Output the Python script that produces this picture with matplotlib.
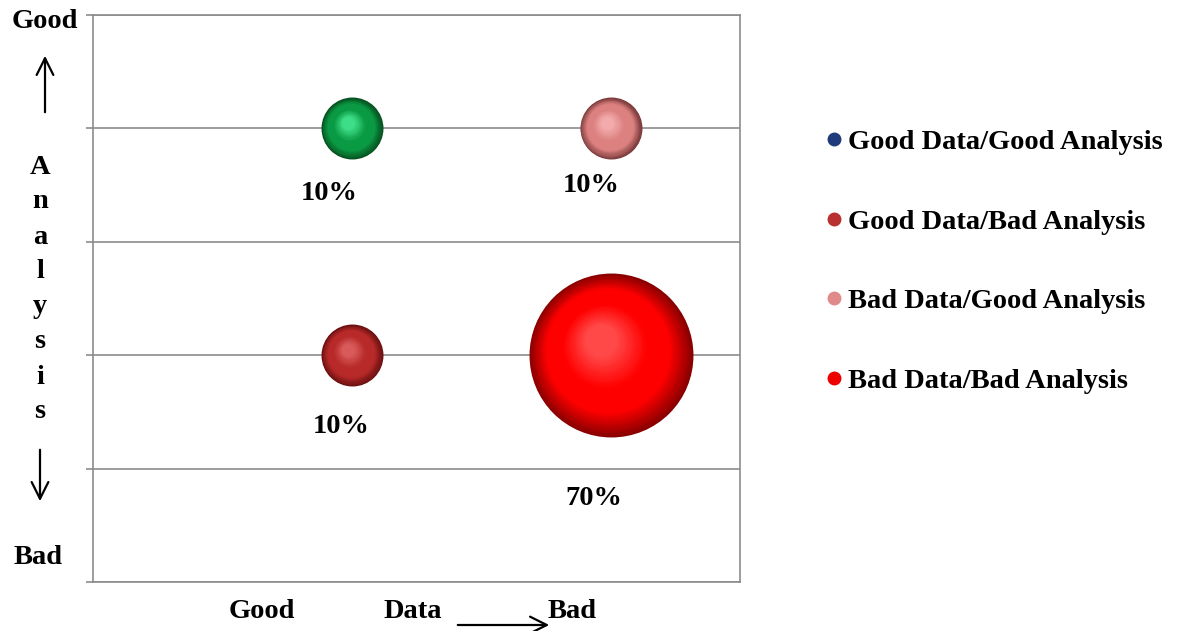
import matplotlib
matplotlib.use("Agg")
import matplotlib.pyplot as plt
import matplotlib.transforms as mtransforms
from matplotlib.lines import Line2D
import numpy as np

plt.rcParams['font.family'] = ['Liberation Serif', 'DejaVu Serif']
plt.rcParams['font.weight'] = 'bold'

# data quality (x) vs analysis quality (y), bubble = share of cases
names = ['Good Data/Good Analysis', 'Good Data/Bad Analysis',
         'Bad Data/Good Analysis', 'Bad Data/Bad Analysis']
data_x = [1, 1, 2, 2]
analysis_y = [4, 2, 4, 2]
share = [10, 10, 10, 70]

# (dark rim, body, highlight) per bubble; legend colours follow the series palette
bubble_cols = [('#06501f', '#0b9a44', '#3ede88'),
               ('#6a1010', '#b82a2a', '#d85a5a'),
               ('#7a3a3a', '#dc8080', '#f2aaaa'),
               ('#8a0000', '#ff0000', '#ff4848')]
legend_cols = ['#1f3a7a', '#b83030', '#e08a8a', '#ee0000']
label_offsets = [(-16, -47), (-8, -51), (-14, -41), (-12, -103)]

SCALE = 199.0  # points^2 per percent
FS = 20.5

def blend(c1, c2, t):
    a = np.array(matplotlib.colors.to_rgb(c1))
    b = np.array(matplotlib.colors.to_rgb(c2))
    return tuple(a + (b - a) * t)

fig = plt.figure(figsize=(11.79, 6.31), dpi=100)
ax = fig.add_axes([0.0789, 0.0777, 0.5488, 0.8985])
ax.set_xlim(0, 2.5)
ax.set_ylim(0, 5)

ax.set_yticks(np.arange(0, 6, 1))
ax.set_xticks([])
ax.set_yticklabels([])
ax.yaxis.grid(True, color='#8c8c8c', linewidth=1.2)
ax.set_axisbelow(True)
ax.tick_params(axis='y', length=5, width=1.2, color='#8c8c8c', direction='out')
for sp in ax.spines.values():
    sp.set_color('#8c8c8c')
    sp.set_linewidth(1.2)

# shaded spheres: stack shrinking discs drifting toward the upper-left highlight
n_layers = 40
for i in range(len(share)):
    rim, body, hi = bubble_cols[i]
    s = share[i] * SCALE
    r = np.sqrt(s) / 2.0
    for k in range(n_layers):
        t = k / (n_layers - 1)
        frac = 1.0 - 0.8 * t
        if t < 0.3:
            col = blend(rim, body, t / 0.3)
        elif t < 0.6:
            col = body
        else:
            col = blend(body, hi, (t - 0.6) / 0.4)
        off = mtransforms.offset_copy(ax.transData, fig=fig,
                                      x=-0.12 * r * t, y=0.18 * r * t, units='points')
        ax.scatter([data_x[i]], [analysis_y[i]], s=s * frac ** 2, color=col,
                   linewidths=0, transform=off, zorder=3 + k * 0.01)
    ax.annotate(f'{share[i]}%', (data_x[i], analysis_y[i]),
                xytext=label_offsets[i], textcoords='offset points',
                ha='center', va='center', fontsize=FS, fontweight='bold')

handles = [Line2D([], [], linestyle='none', marker='o', markersize=9,
                  markerfacecolor=c, markeredgecolor=c) for c in legend_cols]
fig.legend(handles, names, loc='upper left', bbox_to_anchor=(0.6858, 0.813),
           frameon=False, fontsize=FS, handletextpad=0.0, handlelength=1.0,
           labelspacing=1.88, borderaxespad=0)

# axis captions with arrows
fig.text(45 / 1179, 1 - 22 / 631, 'Good', ha='center', va='center', fontsize=FS)
fig.text(38 / 1179, 1 - 557 / 631, 'Bad', ha='center', va='center', fontsize=FS)
for j, ch in enumerate('Analysis'):
    fig.text(40 / 1179, 1 - (167 + j * 35) / 631, ch, ha='center', va='center', fontsize=FS)
fig.add_artist(matplotlib.patches.FancyArrowPatch(
    (45 / 1179, 1 - 115 / 631), (45 / 1179, 1 - 53 / 631), transform=fig.transFigure,
    arrowstyle='->', mutation_scale=30, linewidth=1.6, color='black'))
fig.add_artist(matplotlib.patches.FancyArrowPatch(
    (40 / 1179, 1 - 447 / 631), (40 / 1179, 1 - 504 / 631), transform=fig.transFigure,
    arrowstyle='->', mutation_scale=30, linewidth=1.6, color='black'))

fig.text(262 / 1179, 1 - 612 / 631, 'Good', ha='center', va='center', fontsize=FS)
fig.text(413 / 1179, 1 - 612 / 631, 'Data', ha='center', va='center', fontsize=FS)
fig.text(572 / 1179, 1 - 612 / 631, 'Bad', ha='center', va='center', fontsize=FS)
fig.add_artist(matplotlib.patches.FancyArrowPatch(
    (455 / 1179, 1 - 625 / 631), (552 / 1179, 1 - 625 / 631), transform=fig.transFigure,
    arrowstyle='->', mutation_scale=30, linewidth=1.6, color='black'))

fig.savefig('out.png', dpi=100)
